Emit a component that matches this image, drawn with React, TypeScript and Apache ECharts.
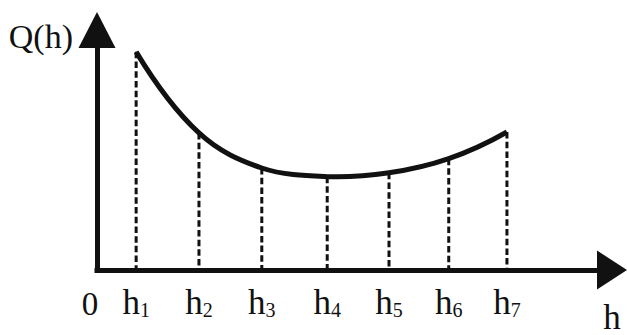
import React, { useEffect, useRef } from 'react';
import * as echarts from 'echarts';

// h positions along the horizontal axis (axis runs 0 .. 10)
const hPositions = [0.76, 1.98, 3.2, 4.47, 5.67, 6.83, 7.96];
// Q(h) values at those positions (vertical axis runs 0 .. 10)
const qValues = [9.09, 5.71, 4.25, 3.89, 4.05, 4.64, 5.75];
const subscripts = ['1', '2', '3', '4', '5', '6', '7'];
const originLabel = '0';
const xName = 'h';
const yName = 'Q(h)';

export default function App() {
  const ref = useRef<HTMLDivElement>(null);
  useEffect(() => {
    const chart = echarts.init(ref.current as HTMLDivElement, null, { renderer: 'svg' });
    const ink = '#111111';
    const font = '"Liberation Serif", "Times New Roman", serif';
    const curve = hPositions.map((x, i) => [x, qValues[i]]);

    const renderItem = (params: any, api: any) => {
      const idx = params.dataIndex;
      const x = api.value(0);
      const y = api.value(1);
      const top = api.coord([x, y]);
      const bottom = api.coord([x, 0]);
      const children: any[] = [
        {
          type: 'line',
          shape: { x1: top[0], y1: top[1], x2: bottom[0], y2: bottom[1] },
          style: { stroke: ink, lineWidth: 3, lineDash: [6.5, 3.2] },
          z2: 1,
        },
      ];
      if (idx === 0) {
        const pts = curve.map((p) => api.coord(p));
        const n = pts.length;
        const tan = (i: number) => {
          if (i === 0) {
            return [
              (-3 * pts[0][0] + 4 * pts[1][0] - pts[2][0]) / 2,
              (-3 * pts[0][1] + 4 * pts[1][1] - pts[2][1]) / 2,
            ];
          }
          if (i === n - 1) {
            return [
              (3 * pts[n - 1][0] - 4 * pts[n - 2][0] + pts[n - 3][0]) / 2,
              (3 * pts[n - 1][1] - 4 * pts[n - 2][1] + pts[n - 3][1]) / 2,
            ];
          }
          return [(pts[i + 1][0] - pts[i - 1][0]) / 2, (pts[i + 1][1] - pts[i - 1][1]) / 2];
        };
        let d = 'M' + pts[0][0] + ',' + pts[0][1];
        for (let i = 0; i < n - 1; i++) {
          const t0 = tan(i);
          const t1 = tan(i + 1);
          const c1 = [pts[i][0] + t0[0] / 3, pts[i][1] + t0[1] / 3];
          const c2 = [pts[i + 1][0] - t1[0] / 3, pts[i + 1][1] - t1[1] / 3];
          d += ' C' + c1[0] + ',' + c1[1] + ' ' + c2[0] + ',' + c2[1] + ' ' + pts[i + 1][0] + ',' + pts[i + 1][1];
        }
        children.push({
          type: 'path',
          shape: { pathData: d },
          style: { stroke: ink, lineWidth: 5, fill: 'none', lineCap: 'butt', lineJoin: 'round' },
          z2: 5,
        });
      }
      return { type: 'group', children };
    };

    chart.setOption({
      animation: false,
      grid: { left: 97, right: 15, top: 30, bottom: 53, containLabel: false },
      xAxis: {
        type: 'value',
        min: 0,
        max: 10,
        name: xName,
        nameLocation: 'end',
        nameGap: 0,
        nameTextStyle: {
          fontFamily: font,
          fontSize: 35,
          color: ink,
          align: 'center',
          verticalAlign: 'top',
          padding: [30, 0, 0, 0],
        },
        axisLine: {
          show: true,
          onZero: false,
          symbol: ['none', 'triangle'],
          symbolSize: [39, 30],
          lineStyle: { color: ink, width: 5, cap: 'square' },
        },
        axisTick: { show: false },
        splitLine: { show: false },
        axisLabel: {
          show: true,
          customValues: [0, ...hPositions],
          margin: 15,
          formatter: (value: number) => {
            const idx = hPositions.findIndex((h) => Math.abs(h - value) < 1e-6);
            if (idx < 0) return '{z|' + originLabel + '}';
            return '{b|h}{s|' + subscripts[idx] + '}';
          },
          rich: {
            z: { fontFamily: font, fontSize: 33, lineHeight: 35, color: ink, padding: [0, 14, 0, 0], verticalAlign: 'bottom' },
            b: { fontFamily: font, fontSize: 35, lineHeight: 35, color: ink, verticalAlign: 'bottom' },
            s: { fontFamily: font, fontSize: 20, lineHeight: 29, color: ink, verticalAlign: 'bottom' },
          },
        },
      },
      yAxis: {
        type: 'value',
        min: 0,
        max: 10,
        name: yName,
        nameLocation: 'end',
        nameGap: -6,
        nameTextStyle: {
          fontFamily: font,
          fontSize: 34,
          color: ink,
          align: 'right',
          verticalAlign: 'middle',
          padding: [0, 24, 0, 0],
        },
        axisLine: {
          show: true,
          onZero: false,
          symbol: ['none', 'triangle'],
          symbolSize: [37, 36],
          lineStyle: { color: ink, width: 5, cap: 'square' },
        },
        axisTick: { show: false },
        splitLine: { show: false },
        axisLabel: { show: false },
      },
      series: [
        {
          type: 'custom',
          coordinateSystem: 'cartesian2d',
          data: curve,
          renderItem,
          clip: false,
          z: 3,
        },
      ],
    });
    return () => chart.dispose();
  }, []);
  return (
    <div
      ref={ref}
      style={{ position: 'absolute', left: 0, top: 0, width: 627, height: 335, background: '#fff' }}
    />
  );
}
